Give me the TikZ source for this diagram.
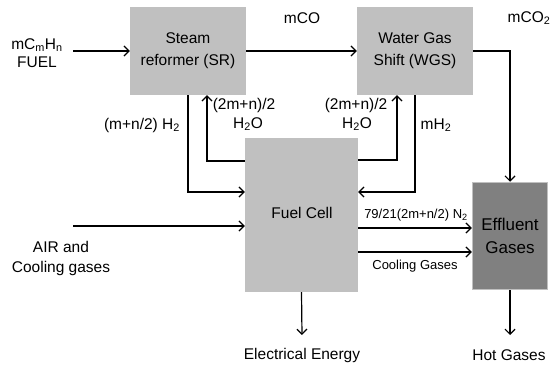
\documentclass[tikz,border=0pt]{standalone}
\usepackage{fontspec}
\setmainfont{Liberation Sans}
\usetikzlibrary{arrows.meta}
\definecolor{boxgray}{HTML}{C0C0C0}
\definecolor{effgray}{HTML}{808080}
\begin{document}
\begin{tikzpicture}[x=1pt,y=-1pt,
  proc/.style={fill=boxgray,draw=none,inner sep=0pt,align=center,font=\fontsize{15.5}{22}\selectfont},
  arr/.style={line width=1.2pt,-{Straight Barb[length=5pt,width=10pt,line width=1.2pt]}},
  lbl/.style={inner sep=0pt,align=center,font=\fontsize{15.5}{21}\selectfont},
  slbl/.style={inner sep=0pt,align=center,font=\fontsize{13}{16}\selectfont}]
\useasboundingbox[fill=white] (0,0) rectangle (550,369);
% boxes
\node[proc,minimum width=116pt,minimum height=88pt] (SR) at (188,51) {Steam\\reformer (SR)};
\node[proc,minimum width=116pt,minimum height=88pt] (WGS) at (415,51) {Water Gas\\Shift (WGS)};
\node[proc,minimum width=113pt,minimum height=154pt] (FC) at (301.5,215) {};
\node[lbl] (fctext) at (302,213) {Fuel Cell};
\node[proc,fill=effgray,draw=boxgray,line width=1.5pt,minimum width=75pt,minimum height=107pt,font=\fontsize{17}{23}\selectfont] (EF) at (510,236) {Effluent\\Gases};
% labels
\node[lbl] (fuel1) at (37,45) {mC\textsubscript{m}H\textsubscript{n}};
\node[lbl] (fuel2) at (37,62) {FUEL};
\node[lbl] (mco) at (302,18) {mCO};
\node[lbl] (mco2) at (529,18) {mCO\textsubscript{2}};
\node[lbl] (h2a) at (142,125) {(m+n/2) H\textsubscript{2}};
\node[lbl] (w1a) at (244,105) {(2m+n)/2};
\node[lbl] (w1b) at (248,124) {H\textsubscript{2}O};
\node[lbl] (w2a) at (356,105) {(2m+n)/2};
\node[lbl] (w2b) at (357,124) {H\textsubscript{2}O};
\node[lbl] (mh2) at (436,125) {mH\textsubscript{2}};
\node[lbl] (air1) at (61,247) {AIR and};
\node[lbl] (air2) at (61,268) {Cooling gases};
\node[slbl] (n2) at (416,215) {79/21(2m+n/2) N\textsubscript{2}};
\node[slbl] (cg) at (415,266) {Cooling Gases};
\node[lbl] (elec) at (302,355) {Electrical Energy};
\node[lbl] (hot) at (509,355) {Hot Gases};
% free ends
\coordinate (fuelin) at (73,51);
\coordinate (airin) at (73,226);
\coordinate (fcout) at (302,335);
\coordinate (efout) at (510,335);
% connectors
\draw[arr] (fuelin) -- (SR.west);
\draw[arr] (SR.east) -- (WGS.west);
\draw[arr] (WGS.east) -| (EF.north);
\draw[arr] (SR.south) |- ([yshift=23pt]FC.west);
\draw[arr] ([yshift=54pt]FC.west) -| ([xshift=19pt]SR.south);
\draw[arr] ([yshift=55pt]FC.east) -| ([xshift=-18pt]WGS.south);
\draw[arr] (WGS.south) |- ([yshift=23pt]FC.east);
\draw[arr] (airin) -- (airin -| FC.west);
\draw[arr] ([yshift=-13pt]FC.east) -- ([yshift=-13pt]FC.east -| EF.west);
\draw[arr] ([yshift=-37pt]FC.east) -- ([yshift=-37pt]FC.east -| EF.west);
\draw[arr] (FC.south) -- (fcout);
\draw[arr] (EF.south) -- (efout);
\end{tikzpicture}
\end{document}
